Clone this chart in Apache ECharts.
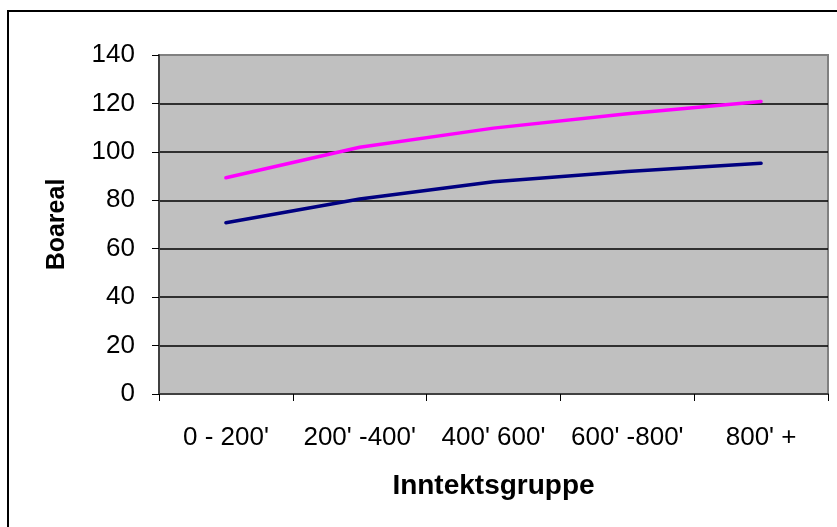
<!DOCTYPE html>
<html>
<head>
<meta charset="utf-8">
<script src="https://cdn.jsdelivr.net/npm/echarts@6/dist/echarts.min.js"></script>
<style>
html,body{margin:0;padding:0;background:#fff;}
#chart{width:837px;height:527px;}
</style>
</head>
<body>
<div id="chart"></div>
<script>
var categories = ["0 - 200'", "200' -400'", "400' 600'", "600' -800'", "800' +"];
var seriesMagenta = [89.3, 101.9, 109.8, 115.7, 120.8];
var seriesNavy = [70.7, 80.5, 87.7, 91.9, 95.3];
var yTicks = [0, 20, 40, 60, 80, 100, 120, 140];
var xTitle = 'Inntektsgruppe';
var yTitle = 'Boareal';

var chart = echarts.init(document.getElementById('chart'), null, {renderer: 'canvas'});
var font = 'Liberation Sans, Arial, sans-serif';
var gridColors = yTicks.map(function (v, i) { return i === yTicks.length - 1 ? '#808080' : '#000000'; });

chart.setOption({
  animation: false,
  backgroundColor: '#ffffff',
  graphic: [{
    type: 'rect',
    shape: {x: 8, y: 11, width: 900, height: 600},
    style: {fill: 'none', stroke: '#000000', lineWidth: 2},
    silent: true
  }],
  grid: {
    left: 159, right: 9, top: 55, bottom: 133,
    show: true,
    backgroundColor: '#c0c0c0',
    borderColor: '#808080',
    borderWidth: 2
  },
  xAxis: {
    type: 'category',
    data: categories,
    boundaryGap: true,
    name: xTitle,
    nameLocation: 'middle',
    nameGap: 78,
    nameTextStyle: {fontFamily: font, fontSize: 28, fontWeight: 'bold', color: '#000'},
    axisLine: {lineStyle: {color: '#404040', width: 2}},
    axisTick: {show: true, length: 7, lineStyle: {color: '#000', width: 1}},
    axisLabel: {fontFamily: font, fontSize: 26, color: '#000', margin: 31, interval: 0}
  },
  yAxis: {
    type: 'value',
    min: yTicks[0],
    max: yTicks[yTicks.length - 1],
    interval: 20,
    name: yTitle,
    nameLocation: 'middle',
    nameGap: 89,
    nameTextStyle: {fontFamily: font, fontSize: 25, fontWeight: 'bold', color: '#000'},
    axisLine: {show: true, lineStyle: {color: '#404040', width: 2}},
    axisTick: {show: true, length: 7, lineStyle: {color: '#000', width: 1}},
    axisLabel: {fontFamily: font, fontSize: 26, color: '#000', margin: 24},
    splitLine: {show: true, lineStyle: {color: gridColors, width: 1.6}}
  },
  series: [{
    type: 'line',
    data: seriesMagenta,
    showSymbol: false,
    lineStyle: {color: '#ff00ff', width: 3.5, cap: 'round'},
    itemStyle: {color: '#ff00ff'}
  }, {
    type: 'line',
    data: seriesNavy,
    showSymbol: false,
    lineStyle: {color: '#000080', width: 3.5, cap: 'round'},
    itemStyle: {color: '#000080'}
  }]
});
</script>
</body>
</html>
